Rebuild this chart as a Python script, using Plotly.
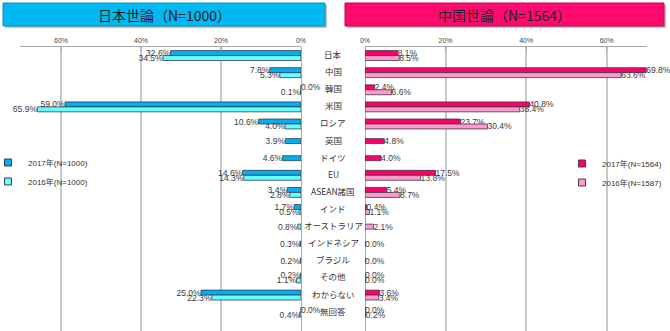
import plotly.graph_objects as go

categories = ["日本", "中国", "韓国", "米国", "ロシア", "英国", "ドイツ", "EU", "ASEAN諸国",
              "インド", "オーストラリア", "インドネシア", "ブラジル", "その他", "わからない", "無回答"]

jp_2017 = [32.6, 7.8, 0.0, 59.0, 10.6, 3.9, 4.6, 14.6, 3.4, 1.7, None, 0.3, 0.2, 0.2, 25.0, 0.0]
jp_2016 = [34.5, 5.3, 0.1, 65.9, 4.0, None, None, 14.3, 2.8, 0.5, 0.8, None, None, 1.1, 22.3, 0.4]
cn_2017 = [8.1, 69.8, 2.4, 40.8, 23.7, 4.8, 4.0, 17.5, 5.4, 0.4, None, 0.0, 0.0, 0.0, 3.6, 0.0]
cn_2016 = [8.5, 63.6, 6.6, 38.4, 30.4, None, None, 13.8, 8.7, 1.1, 2.1, None, None, 0.0, 3.4, 0.2]

jp_names = ["2017年(N=1000)", "2016年(N=1000)"]
cn_names = ["2017年(N=1564)", "2016年(N=1587)"]
titles = ["日本世論（N=1000）", "中国世論（N=1564）"]
tick_vals = [0, 20, 40, 60]
tick_text = ["0%", "20%", "40%", "60%"]

C_JP17, C_JP16 = "#00B0F0", "#66FFFF"
C_CN17, C_CN16 = "#FF0066", "#FF99CC"
EDGE = "#3a3a4a"
BW = 0.29
LAT = "Liberation Sans, Noto Sans CJK JP, sans-serif"
CJK = "Noto Sans CJK JP, sans-serif"


def offsets(a, b, first):
    out = []
    for va, vb in zip(a, b):
        if va is None or vb is None:
            out.append(-BW / 2)
        else:
            out.append(-BW if first else 0.0)
    return out


fig = go.Figure()


def add_bar(vals, other, first, color, xa):
    fig.add_trace(go.Bar(
        y=categories, x=vals, orientation="h", xaxis=xa, yaxis="y",
        width=BW, offset=offsets(vals, other, first),
        marker=dict(color=color, line=dict(color=EDGE, width=0.8)),
        texttemplate="%{x:.1f}%", textposition="outside",
        textfont=dict(family=LAT, size=8.5, color="#3a3a3a"),
        constraintext="none", cliponaxis=False, showlegend=False,
    ))


add_bar(jp_2017, jp_2016, True, C_JP17, "x")
add_bar(jp_2016, jp_2017, False, C_JP16, "x")
add_bar(cn_2017, cn_2016, True, C_CN17, "x2")
add_bar(cn_2016, cn_2017, False, C_CN16, "x2")

for name, color, lg in [(jp_names[0], C_JP17, "legend"), (jp_names[1], C_JP16, "legend"),
                        (cn_names[0], C_CN17, "legend2"), (cn_names[1], C_CN16, "legend2")]:
    fig.add_trace(go.Scatter(
        x=[None], y=[None], mode="markers", name=name, legend=lg,
        marker=dict(symbol="square", size=7, color=color, line=dict(color=EDGE, width=1)),
        xaxis="x", yaxis="y",
    ))

W, H = 670, 331
top_px = 47
ydom_top = 1 - top_px / H

axis_common = dict(
    side="top", anchor="y", tickvals=tick_vals, ticktext=tick_text,
    showline=True, linecolor="#a8a8a8", linewidth=1,
    ticks="inside", ticklen=4, tickcolor="#a8a8a8",
    showgrid=True, gridcolor="#c8c8c8", gridwidth=1.5,
    zeroline=True, zerolinecolor="#a8a8a8", zerolinewidth=1,
    tickfont=dict(family=LAT, size=7, color="#444"),
    fixedrange=True,
)

fig.update_layout(
    width=W, height=H, margin=dict(l=0, r=0, t=0, b=0, autoexpand=False),
    paper_bgcolor="white", plot_bgcolor="white",
    barmode="overlay",
    xaxis=dict(domain=[20 / W, 301 / W], range=[70.25, 0], **axis_common),
    xaxis2=dict(domain=[365 / W, 647 / W], range=[0, 70], **axis_common),
    yaxis=dict(domain=[0, ydom_top], range=[16.1, -0.5], showticklabels=False,
               showgrid=False, zeroline=False, showline=False, type="category",
               anchor="x", fixedrange=True),
    legend=dict(x=-12 / W, y=1 - 148 / H, xanchor="left", yanchor="top",
                bgcolor="rgba(0,0,0,0)", font=dict(family=LAT, size=8, color="#333"),
                itemwidth=30, tracegroupgap=0),
    legend2=dict(x=562 / W, y=1 - 149 / H, xanchor="left", yanchor="top",
                 bgcolor="rgba(0,0,0,0)", font=dict(family=LAT, size=8, color="#333"),
                 itemwidth=30, tracegroupgap=0),
    showlegend=True,
)

# category labels in the central column
for c in categories:
    fig.add_annotation(x=333 / W, xref="paper", y=c, yref="y", text=c, showarrow=False,
                       xanchor="center", yanchor="middle", yshift=1.5,
                       font=dict(family=CJK, size=8.5, color="#333"))

# title boxes with a light shadow
boxes = [(3, 325, "#00B8F2", "#0a8fbf", titles[0]), (345, 664, "#FF0A6E", "#c8004f", titles[1])]
for x0, x1, fill, line, txt in boxes:
    fig.add_shape(type="rect", xref="paper", yref="paper",
                  x0=(x0 + 2) / W, x1=(x1 + 2) / W, y0=1 - 28 / H, y1=1 - 5 / H,
                  fillcolor="rgba(0,0,0,0.25)", line=dict(width=0), layer="below")
    fig.add_shape(type="rect", xref="paper", yref="paper",
                  x0=x0 / W, x1=x1 / W, y0=1 - 26 / H, y1=1 - 3 / H,
                  fillcolor=fill, line=dict(color=line, width=1))
    fig.add_annotation(x=(x0 + x1) / 2 / W, y=1 - 14.5 / H, xref="paper", yref="paper",
                       text=txt, showarrow=False, xanchor="center", yanchor="middle",
                       font=dict(family=CJK, size=14, color="#222"))

fig.write_html("out.html")
